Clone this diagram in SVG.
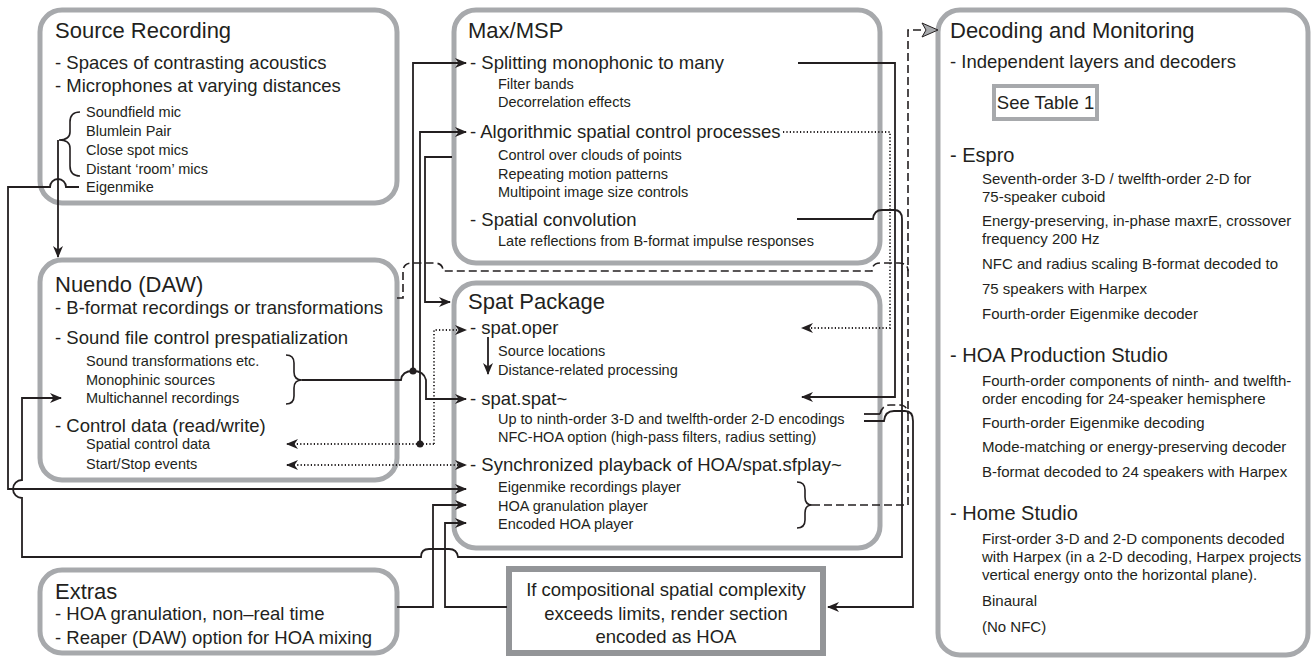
<svg xmlns="http://www.w3.org/2000/svg" width="1311" height="658" viewBox="0 0 1311 658">
<defs>
<style>
.box{fill:none;stroke:#a7a9ac;stroke-width:5}
.t{font-family:"Liberation Sans",Arial,sans-serif;fill:#231f20}
.ti{font-size:22px}
.b{font-size:18.5px}
.s{font-size:14.5px}
.ds{font-size:15px}
.dh{font-size:20px}
.ln{fill:none;stroke:#231f20;stroke-width:1.8}
.dot{fill:none;stroke:#231f20;stroke-width:1.8;stroke-dasharray:1.2 2.2}
.dash{fill:none;stroke:#231f20;stroke-width:1.6;stroke-dasharray:8 4}
.br{fill:none;stroke:#231f20;stroke-width:1.6}
</style>
<marker id="ah" viewBox="0 0 12 10" refX="11" refY="5" markerWidth="12" markerHeight="10" orient="auto-start-reverse" markerUnits="userSpaceOnUse">
<path d="M0,0 L12,5 L0,10 L3.5,5 z" fill="#231f20"/>
</marker>
</defs>

<g id="source-recording">
<rect class="box" x="40" y="10" width="357" height="193" rx="22"/>
<text class="t ti" x="55" y="38">Source Recording</text>
<text class="t b" x="55" y="69">- Spaces of contrasting acoustics</text>
<text class="t b" x="55" y="92">- Microphones at varying distances</text>
<text class="t s" x="86" y="117">Soundfield mic</text>
<text class="t s" x="86" y="136">Blumlein Pair</text>
<text class="t s" x="86" y="155">Close spot mics</text>
<text class="t s" x="86" y="174">Distant  ‘room’ mics</text>
<text class="t s" x="86" y="192">Eigenmike</text>
<path class="br" d="M80,112 Q70,112 70,122 V132 Q70,140 59,140 Q70,140 70,148 V166 Q70,176 80,176"/>
</g>

<g id="nuendo">
<rect class="box" x="40" y="260" width="357" height="220" rx="22"/>
<text class="t ti" x="55" y="292">Nuendo (DAW)</text>
<text class="t b" x="55" y="314">- B-format recordings or transformations</text>
<text class="t b" x="55" y="344">- Sound file control prespatialization</text>
<text class="t s" x="86" y="366">Sound transformations etc.</text>
<text class="t s" x="86" y="385">Monophinic sources</text>
<text class="t s" x="86" y="403">Multichannel recordings</text>
<text class="t b" x="55" y="432">- Control data (read/write)</text>
<text class="t s" x="86" y="449">Spatial control data</text>
<text class="t s" x="86" y="469">Start/Stop events</text>
<path class="br" d="M286,355 Q294,355 294,363 V372 Q294,380 302,380 Q294,380 294,388 V396 Q294,404 286,404"/>
</g>

<g id="extras">
<rect class="box" x="40" y="570" width="357" height="83" rx="22"/>
<text class="t ti" x="55" y="599">Extras</text>
<text class="t b" x="55" y="620">- HOA granulation, non–real time</text>
<text class="t b" x="55" y="644">- Reaper (DAW) option for HOA mixing</text>
</g>

<g id="maxmsp">
<rect class="box" x="454" y="10" width="426" height="253" rx="22"/>
<text class="t ti" x="468" y="38">Max/MSP</text>
<text class="t b" x="470" y="69">- Splitting monophonic to many</text>
<text class="t s" x="498" y="89">Filter bands</text>
<text class="t s" x="498" y="107">Decorrelation effects</text>
<text class="t b" x="470" y="138">- Algorithmic spatial control processes</text>
<text class="t s" x="498" y="160">Control over clouds of points</text>
<text class="t s" x="498" y="179">Repeating motion patterns</text>
<text class="t s" x="498" y="197">Multipoint image size controls</text>
<text class="t b" x="470" y="226">- Spatial convolution</text>
<text class="t s" x="498" y="246">Late reflections from B-format impulse responses</text>
</g>

<g id="spat-package">
<rect class="box" x="454" y="283" width="426" height="265" rx="22"/>
<text class="t ti" x="468" y="309">Spat Package</text>
<text class="t b" x="470" y="334">- spat.oper</text>
<text class="t s" x="498" y="356">Source locations</text>
<text class="t s" x="498" y="375">Distance-related processing</text>
<text class="t b" x="470" y="405">- spat.spat~</text>
<text class="t s" x="498" y="424">Up to ninth-order 3-D and twelfth-order 2-D encodings</text>
<text class="t s" x="498" y="442">NFC-HOA option (high-pass filters, radius setting)</text>
<text class="t b" x="470" y="471">- Synchronized playback of HOA/spat.sfplay~</text>
<text class="t s" x="498" y="492">Eigenmike recordings player</text>
<text class="t s" x="498" y="511">HOA granulation player</text>
<text class="t s" x="498" y="529">Encoded HOA player</text>
<path class="br" d="M797,482 Q805,482 805,490 V497 Q805,505 812,505 Q805,505 805,513 V520 Q805,528 797,528"/>
<path class="ln" d="M488,337 V374" marker-end="url(#ah)"/>
</g>

<g id="render-note">
<rect x="509" y="569" width="314" height="84" fill="none" stroke="#939598" stroke-width="6"/>
<text class="t b" x="666" y="596" text-anchor="middle">If compositional spatial complexity</text>
<text class="t b" x="666" y="620" text-anchor="middle">exceeds limits, render section</text>
<text class="t b" x="666" y="643" text-anchor="middle">encoded as HOA</text>
</g>

<g id="decoding">
<rect class="box" x="938" y="10" width="370" height="645" rx="22"/>
<text class="t ti" x="950" y="38">Decoding and Monitoring</text>
<text class="t b" x="950" y="68">- Independent layers and decoders</text>
<rect x="994" y="86" width="103" height="33" fill="none" stroke="#a7a9ac" stroke-width="4"/>
<text class="t b" x="1045.5" y="109" text-anchor="middle">See Table 1</text>
<text class="t dh" x="950" y="162">- Espro</text>
<text class="t ds" x="982" y="184">Seventh-order 3-D / twelfth-order 2-D for</text>
<text class="t ds" x="982" y="202">75-speaker cuboid</text>
<text class="t ds" x="982" y="226">Energy-preserving, in-phase maxrE, crossover</text>
<text class="t ds" x="982" y="244">frequency 200 Hz</text>
<text class="t ds" x="982" y="269">NFC and radius scaling B-format decoded to</text>
<text class="t ds" x="982" y="294">75 speakers with Harpex</text>
<text class="t ds" x="982" y="319">Fourth-order Eigenmike decoder</text>
<text class="t dh" x="950" y="362">- HOA Production Studio</text>
<text class="t ds" x="982" y="386">Fourth-order components of ninth- and twelfth-</text>
<text class="t ds" x="982" y="404">order encoding for 24-speaker hemisphere</text>
<text class="t ds" x="982" y="428">Fourth-order Eigenmike decoding</text>
<text class="t ds" x="982" y="452">Mode-matching or energy-preserving decoder</text>
<text class="t ds" x="982" y="477">B-format decoded to 24 speakers with Harpex</text>
<text class="t dh" x="950" y="520">- Home Studio</text>
<text class="t ds" x="982" y="544">First-order 3-D and 2-D components decoded</text>
<text class="t ds" x="982" y="562">with Harpex (in a 2-D decoding, Harpex projects</text>
<text class="t ds" x="982" y="580">vertical energy onto the horizontal plane).</text>
<text class="t ds" x="982" y="606">Binaural</text>
<text class="t ds" x="982" y="632">(No NFC)</text>
</g>

<g id="connectors">
<!-- Source recording to Nuendo -->
<path class="ln" d="M58,140 V257" marker-end="url(#ah)"/>
<!-- Eigenmike to Eigenmike recordings player -->
<path class="ln" d="M79,187 H66 A8,8 0 0 0 50,187 H8 V489 H466" marker-end="url(#ah)"/>
<!-- Spatial convolution to Multichannel recordings -->
<path class="ln" d="M797,219 H873 Q874,210 882,210 H894 Q902,210 902,219 V557 H458 Q457,549 449,549 H429 Q421,549 421,557 H22 V498 A9,9 0 0 1 22,480 V398 H61" marker-end="url(#ah)"/>
<!-- Nuendo brace to spat.spat~ and splitting -->
<path class="ln" d="M302,380 H401 Q402,371 413,371 Q424,371 426,380 V399 H466" marker-end="url(#ah)"/>
<path class="ln" d="M413,371 V63 H466" marker-end="url(#ah)"/>
<circle cx="413" cy="371" r="3.5" fill="#231f20"/>
<!-- Spatial control data to algorithmic -->
<path class="ln" d="M420,444 V132 H466" marker-end="url(#ah)"/>
<circle cx="420" cy="444" r="3.5" fill="#231f20"/>
<path class="dot" d="M434,444 V330 H466" marker-end="url(#ah)"/>
<path class="dot" d="M434,444 H287" marker-end="url(#ah)"/>
<!-- Max/MSP to Spat Package -->
<path class="ln" d="M452,157 H425 V302 H450" marker-end="url(#ah)"/>
<!-- Start/Stop events -->
<path class="dot" d="M287,465 H466" marker-start="url(#ah)" marker-end="url(#ah)"/>
<!-- Extras to HOA granulation player -->
<path class="ln" d="M397,607 H433 V505 H466" marker-end="url(#ah)"/>
<!-- Render note to Encoded HOA player -->
<path class="ln" d="M507,607 H445 V523 H466" marker-end="url(#ah)"/>
<!-- Splitting to spat.spat~ -->
<path class="ln" d="M798,63 H895 V397 H802" marker-end="url(#ah)"/>
<!-- Algorithmic to spat.oper -->
<path class="dot" d="M783,132 H890 V328 H802" marker-end="url(#ah)"/>
<!-- Nuendo B-format to Decoding -->
<path class="dash" d="M397,298 H403 V272 Q403,263 412,263 H434 Q443,263 443,271 H872 Q872,263 881,263 H899 Q908,263 908,271"/>
<!-- Players brace to Decoding -->
<path class="dash" d="M812,505 H908 V30 H923"/>
<polygon points="922,23 938,30 922,37 926,30" fill="#a7a9ac" stroke="#231f20" stroke-width="1"/>
<!-- Encodings -->
<path class="ln" d="M864,414 H880"/>
<path class="dash" d="M880,414 Q882,405 890,405 H900 Q907,405 908,414"/>
<path class="ln" d="M864,421 H884 Q885,411 894,411 H905 Q913,411 913,421 V607 H828" marker-end="url(#ah)"/>
</g>
</svg>
